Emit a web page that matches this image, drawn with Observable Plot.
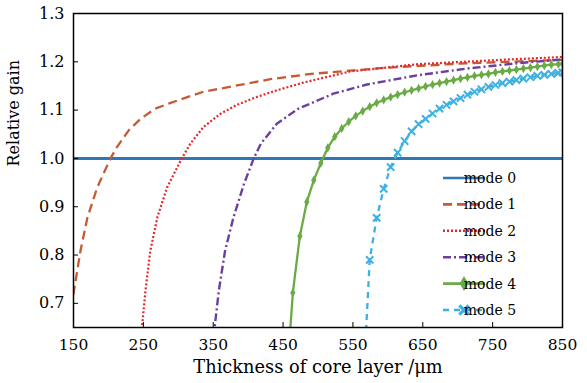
<!DOCTYPE html>
<html><head><meta charset="utf-8">
<script src="https://cdn.jsdelivr.net/npm/d3@7"></script>
<script src="https://cdn.jsdelivr.net/npm/@observablehq/plot@0.6"></script>
<style>
html,body{margin:0;padding:0;background:#fff;}
#chart{width:587px;height:383px;}
</style></head><body><div id="chart"></div>
<script>
const modeNames = ["mode 0","mode 1","mode 2","mode 3","mode 4","mode 5"];
const xLabel = "Thickness of core layer /\u03bcm";
const yLabel = "Relative gain";
const xTicks = [150,250,350,450,550,650,750,850];
const yTicks = [0.7,0.8,0.9,1.0,1.1,1.2,1.3];

const mode0T = [150, 850];
const mode0G = [1.0, 1.0];
const mode1T = [146,150,160,170,184,203,212,229,246,267,289,313,336,384,432,490,599,713,850];
const mode1G = [0.66,0.72,0.809,0.878,0.94,1.0,1.023,1.058,1.082,1.103,1.115,1.127,1.138,1.151,1.164,1.175,1.188,1.197,1.204];
const mode2T = [247,248,253,260,270,284,305,317,336,360,384,408,441,479,546,642,761,850];
const mode2G = [0.63,0.65,0.726,0.809,0.878,0.94,1.0,1.03,1.065,1.092,1.111,1.125,1.141,1.157,1.18,1.195,1.204,1.21];
const mode3T = [351,352,358,367,379,394,408,418,441,472,522,570,642,713,785,850];
const mode3G = [0.63,0.65,0.726,0.809,0.878,0.947,1.0,1.03,1.072,1.103,1.134,1.153,1.172,1.186,1.197,1.205];
const mode4T = [459,464,474,484,494,504,514,524,534,544,554,564,574,584,594,604,614,624,634,644,654,664,674,684,694,704,714,724,734,744,754,764,774,784,794,804,814,824,834,844,850];
const mode4G = [0.62,0.722,0.839,0.910,0.955,0.990,1.022,1.045,1.062,1.076,1.088,1.098,1.107,1.115,1.121,1.127,1.132,1.137,1.141,1.145,1.149,1.153,1.156,1.159,1.162,1.165,1.168,1.171,1.173,1.175,1.178,1.180,1.182,1.184,1.186,1.188,1.190,1.192,1.194,1.195,1.196];
const mode5T = [568,574,584,594,604,614,624,634,644,654,664,674,684,694,704,714,724,734,744,754,764,774,784,794,804,814,824,834,844,850];
const mode5G = [0.62,0.79,0.877,0.937,0.982,1.012,1.036,1.056,1.071,1.082,1.093,1.103,1.111,1.118,1.125,1.132,1.138,1.143,1.148,1.152,1.156,1.159,1.162,1.165,1.168,1.171,1.173,1.175,1.177,1.178];

const series = [[mode0T,mode0G],[mode1T,mode1G],[mode2T,mode2G],[mode3T,mode3G],[mode4T,mode4G],[mode5T,mode5G]];
const rows = series.flatMap(([t,g],i)=> t.map((x,j)=>({mode: modeNames[i], t:x, g:g[j]})));

const styles = [
  {stroke:"#2f78b4", width:3, dash:undefined},
  {stroke:"#c55a33", width:2.3, dash:"9,5"},
  {stroke:"#e8262b", width:2.2, dash:"2,2"},
  {stroke:"#6b3fa0", width:2.4, dash:"8,3,2,3"},
  {stroke:"#6aab46", width:2.3, dash:undefined},
  {stroke:"#3fb0e2", width:2.3, dash:"6,5"}
];
const font = "DejaVu Serif, serif";

const plot = Plot.plot({
  width:587, height:383, marginLeft:73, marginRight:25, marginTop:13, marginBottom:56,
  style:{fontFamily: font, fontSize:"16px", background:"#fff", color:"#000"},
  x:{domain:[150,850]}, y:{domain:[0.65,1.3]},
  marks:[
    ...styles.map((s,i)=> Plot.line(rows.filter(d=>d.mode===modeNames[i]), {x:"t", y:"g", stroke:s.stroke, strokeWidth:s.width, strokeDasharray:s.dash, strokeLinecap:"butt", strokeLinejoin:"round", clip:true})),
    Plot.dot(rows.filter(d => d.mode==="mode 4" && d.g>0.66), {x:"t", y:"g", symbol:"diamond", fill:styles[4].stroke, r:2.8, clip:true}),
    Plot.dot(rows.filter(d => d.mode==="mode 5" && d.g>0.66), {x:"t", y:"g", symbol:"times", stroke:styles[5].stroke, strokeWidth:2, r:3.4, clip:true}),
    Plot.axisX({ticks:xTicks, tickSize:-5, tickPadding:16, tickFormat:d=>String(d), label:null, fontSize:15.5}),
    Plot.axisY({ticks:yTicks, tickSize:-5, tickPadding:14, tickFormat:d=>d.toFixed(1), label:null, fontSize:16}),
    Plot.text([xLabel], {frameAnchor:"bottom", dy:45, fontSize:17.8, fill:"#000"}),
    Plot.text([yLabel], {frameAnchor:"left", dx:-60, dy:-4, rotate:-90, fontSize:16, fill:"#000"}),
    Plot.frame({stroke:"#000", strokeWidth:1.5})
  ]
});
document.getElementById("chart").appendChild(plot);

// legend
const svg = d3.select(plot);
const lg = svg.append("g").attr("font-family", font).attr("font-size", 14);
modeNames.forEach((name,i)=>{
  const y = 178 + i*26.4;
  const s = styles[i];
  lg.append("line").attr("x1",443).attr("x2",485).attr("y1",y).attr("y2",y)
    .attr("stroke",s.stroke).attr("stroke-width",2.6).attr("stroke-dasharray", s.dash || null);
  if (i===4) lg.append("path").attr("d", d3.symbol(d3.symbolDiamond, 65)()).attr("transform",`translate(464,${y})`).attr("fill",s.stroke);
  if (i===5) lg.append("path").attr("d", d3.symbol(d3.symbolTimes, 60)()).attr("transform",`translate(464,${y})`).attr("stroke",s.stroke).attr("stroke-width",3.2).attr("fill","none");
  lg.append("text").attr("x",490).attr("y",y).attr("dy","0.35em").attr("fill","#000").text(name);
});
</script></body></html>
